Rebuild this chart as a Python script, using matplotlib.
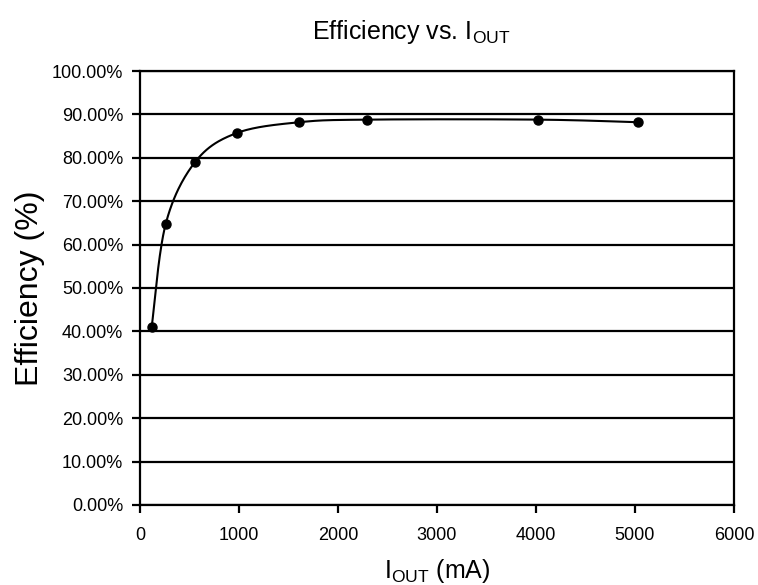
import numpy as np
import matplotlib.pyplot as plt

plt.rcParams['font.family'] = ['Liberation Sans', 'DejaVu Sans']
plt.rcParams['mathtext.fontset'] = 'custom'
plt.rcParams['mathtext.rm'] = 'Liberation Sans'
plt.rcParams['mathtext.it'] = 'Liberation Sans'

# measured points
iout_ma = [118, 260, 559, 976, 1609, 2296, 4016, 5030]
efficiency = [41.0, 64.8, 79.1, 85.7, 88.2, 88.8, 88.8, 88.2]

xticks = [0, 1000, 2000, 3000, 4000, 5000, 6000]
yticks = [0, 10, 20, 30, 40, 50, 60, 70, 80, 90, 100]


def smooth(xs, ys, xspan, yspan, n=40):
    # catmull-rom through the points, done in normalised coords
    px = np.array(xs, float) / xspan
    py = np.array(ys, float) / yspan
    pts = np.column_stack([px, py])
    pts = np.vstack([pts[0], pts, pts[-1]])
    out = []
    for i in range(1, len(pts) - 2):
        p0, p1, p2, p3 = pts[i - 1], pts[i], pts[i + 1], pts[i + 2]
        t = np.linspace(0, 1, n)[:, None]
        seg = 0.5 * ((2 * p1) + (-p0 + p2) * t
                     + (2 * p0 - 5 * p1 + 4 * p2 - p3) * t ** 2
                     + (-p0 + 3 * p1 - 3 * p2 + p3) * t ** 3)
        out.append(seg)
    out = np.vstack(out)
    return out[:, 0] * xspan, out[:, 1] * yspan


fig = plt.figure(figsize=(7.58, 5.85), dpi=100)
ax = fig.add_axes([0.1847, 0.1368, 0.7836, 0.7418])

sx, sy = smooth(iout_ma, efficiency, 6000, 100 * 594 / 434)
ax.plot(sx, sy, color='black', lw=1.5)
ax.plot(iout_ma, efficiency, 'o', color='black', markersize=6.5)

ax.set_xlim(0, 6000)
ax.set_ylim(0, 100)
ax.set_xticks(xticks)
ax.set_yticks(yticks)
ax.set_yticklabels(['%.2f%%' % v for v in yticks])
ax.grid(axis='y', color='black', lw=1.6)
ax.set_axisbelow(True)
for s in ax.spines.values():
    s.set_color('black')
    s.set_linewidth(1.6)
ax.tick_params(direction='out', length=6, width=1.6, labelsize=13, colors='black', pad=10)
ax.tick_params(axis='y', pad=6)

ax.set_title(r'Efficiency vs. I$_{\mathrm{OUT}}$', fontsize=18, pad=23, x=0.456)
ax.set_xlabel(r'I$_{\mathrm{OUT}}$ (mA)', fontsize=18, labelpad=9)
ax.set_ylabel('Efficiency (%)', fontsize=23, labelpad=5)

plt.savefig('out.png', dpi=100)
